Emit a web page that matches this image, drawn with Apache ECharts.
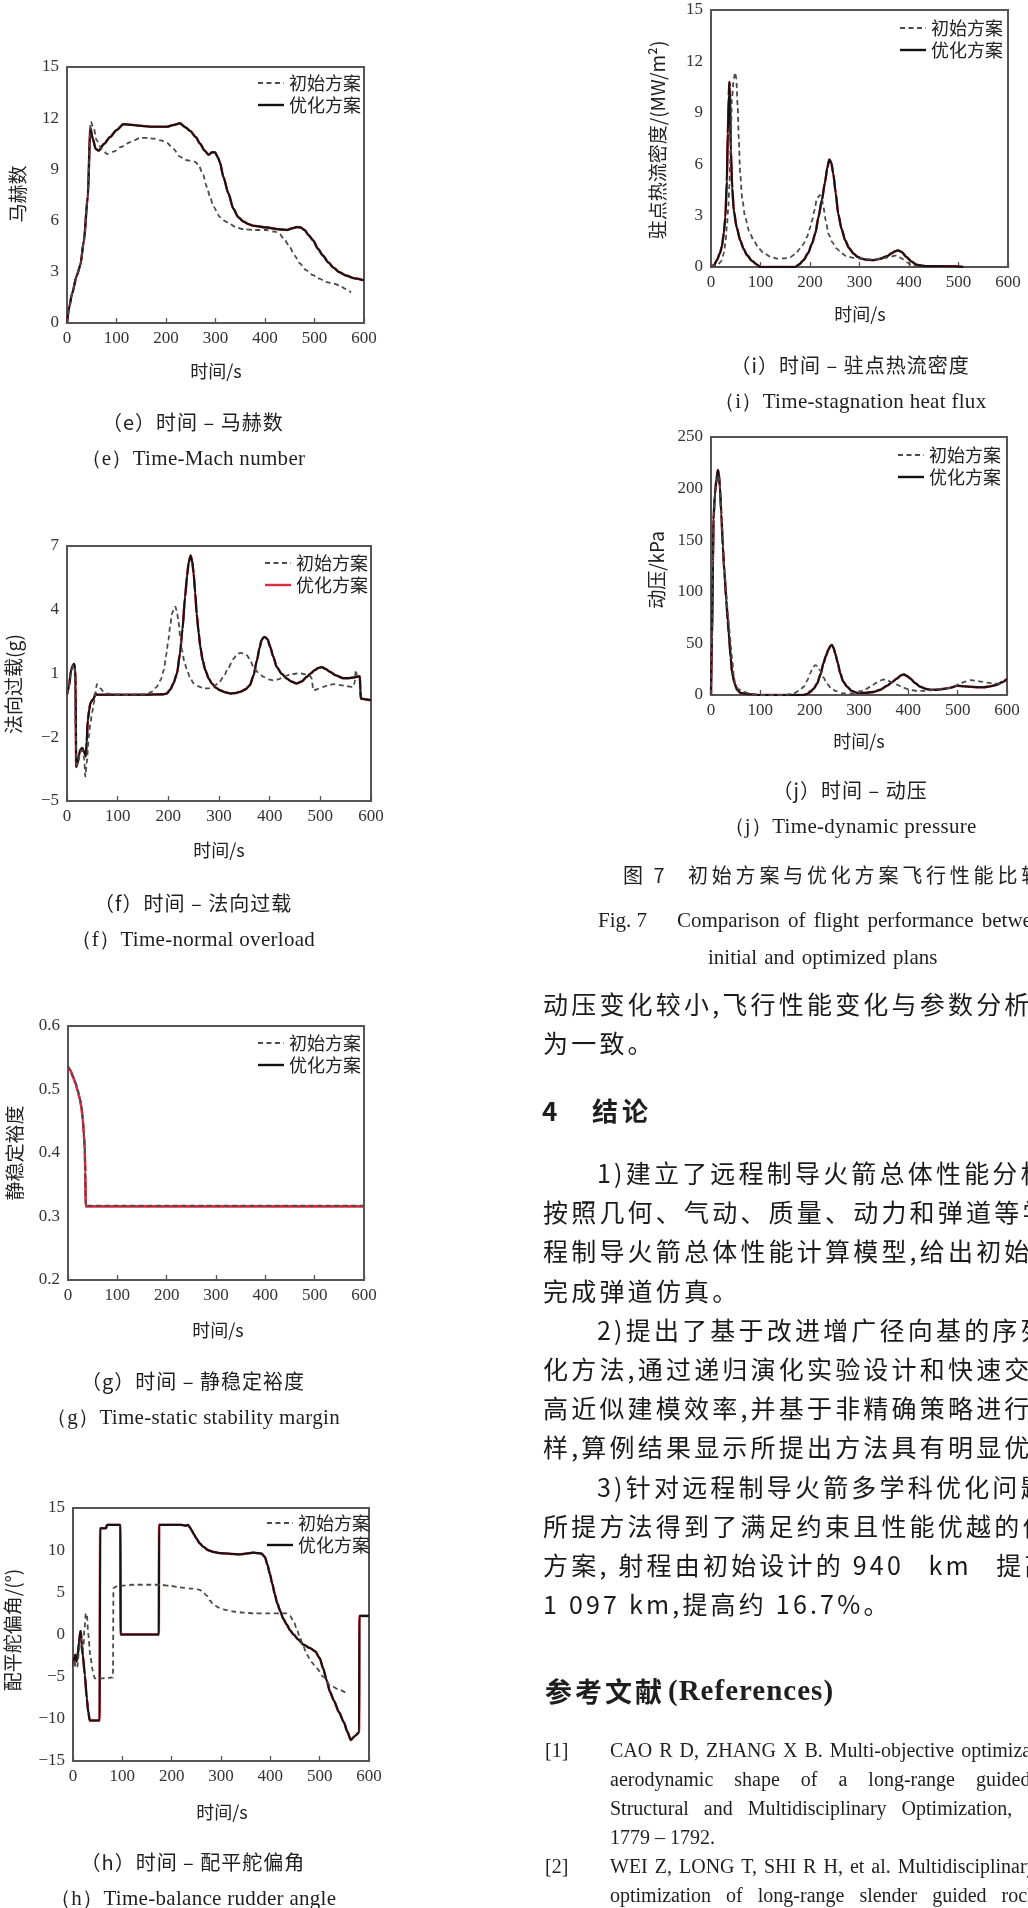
<!DOCTYPE html>
<html><head><meta charset="utf-8">
<script src="https://cdn.jsdelivr.net/npm/echarts@6/dist/echarts.min.js"></script>
<style>
html,body{margin:0;padding:0;background:#fff;width:1028px;height:1908px;overflow:hidden;}
#chart{position:absolute;left:0;top:0;width:1028px;height:1908px;}
.t{position:absolute;white-space:nowrap;color:#1e1e1e;line-height:1;}
.cjk{font-family:"Noto Sans CJK SC",sans-serif;}
.ser{font-family:"Liberation Serif","DejaVu Serif",serif;}
</style></head><body>
<div id="chart"></div>
<div id="txt"></div>
<script>
// ---------------- DATA (time s, value) ----------------
const xTicks = [0, 100, 200, 300, 400, 500, 600];
const legendNames = ['初始方案', '优化方案'];

// (e) Mach number
const machInit = [[0,0],[5,1.0],[10,1.7],[20,2.8],[27,3.4],[34,4.8],[42,7.4],[48,11.8],[54,11.4],[60,10.7],[70,10.2],[81,9.9],[95,10.05],[108,10.3],[128,10.6],[148,10.85],[165,10.85],[175,10.8],[190,10.7],[202,10.55],[215,10.2],[228,9.75],[240,9.55],[249,9.5],[258,9.45],[265,9.3],[275,8.7],[282,8.0],[290,7.3],[296,6.8],[309,6.2],[320,5.95],[329,5.8],[342,5.6],[356,5.5],[380,5.45],[403,5.45],[420,5.35],[430,5.2],[440,4.85],[450,4.45],[460,3.95],[470,3.5],[483,3.1],[497,2.8],[510,2.6],[524,2.4],[540,2.3],[551,2.2],[562,2.0],[574,1.8]];
const machOpt = [[0,0],[5,1.0],[10,1.7],[20,2.8],[27,3.4],[34,4.8],[42,7.4],[47,11.45],[52,10.8],[58,10.2],[64,10.1],[75,10.5],[87,10.9],[100,11.3],[114,11.65],[134,11.6],[150,11.55],[168,11.5],[185,11.5],[202,11.5],[215,11.6],[228,11.7],[240,11.45],[249,11.25],[260,10.9],[269,10.5],[278,10.1],[286,9.86],[293,10.0],[299,10.0],[305,9.7],[309,9.4],[316,8.55],[326,7.6],[336,6.7],[346,6.2],[356,5.95],[366,5.8],[376,5.7],[403,5.6],[425,5.5],[444,5.45],[455,5.55],[464,5.62],[472,5.6],[480,5.45],[488,5.15],[497,4.85],[507,4.35],[517,3.95],[528,3.55],[538,3.25],[550,2.98],[564,2.78],[580,2.62],[600,2.5]];

// (f) normal overload (g)
const loadInit = [[0,0],[4,0.4],[8,1.1],[13,1.4],[15,1.2],[17,-1.5],[19,-3.3],[22,-3.2],[26,-2.7],[30,-2.6],[34,-3.0],[36,-3.85],[39,-3.2],[43,-2.0],[46,-1.36],[50,-0.8],[53,-0.4],[56,0.1],[59,0.5],[63,0.4],[66,0.3],[72,0.15],[79,0.06],[90,0.02],[120,0],[158,0.03],[168,0.15],[177,0.37],[185,0.7],[191,1.16],[196,1.9],[200,2.57],[204,3.3],[207,3.8],[211,4.05],[214,4.15],[217,3.9],[220,3.43],[224,2.6],[227,2.1],[232,1.5],[237,1.16],[243,0.8],[250,0.53],[259,0.4],[269,0.3],[279,0.3],[289,0.37],[299,0.55],[309,0.84],[318,1.25],[329,1.7],[335,1.9],[342,1.97],[348,1.95],[355,1.86],[362,1.6],[368,1.3],[377,1.05],[388,0.84],[398,0.72],[407,0.68],[417,0.72],[427,0.84],[440,0.95],[453,1.0],[463,1.0],[473,0.95],[480,0.88],[483,0.76],[486,0.21],[496,0.28],[506,0.37],[516,0.45],[526,0.5],[540,0.45],[552,0.4],[565,0.37],[568,0.6],[570,1.16],[572,0.9]];
const loadOpt = [[0,0],[4,0.4],[8,1.16],[12,1.4],[14,1.45],[16,1.2],[17,0.4],[18,-3.4],[21,-3.2],[24,-2.8],[26,-2.6],[30,-2.5],[34,-2.7],[37,-2.9],[39,-2.2],[41,-1.2],[44,-0.7],[46,-0.4],[50,-0.25],[53,-0.18],[56,0.06],[59,0.0],[66,0],[100,0],[150,0],[190,0.02],[197,0.06],[204,0.25],[210,0.53],[217,1.0],[223,1.94],[228,3.1],[233,4.6],[237,5.6],[240,6.2],[244,6.55],[247,6.3],[250,5.7],[253,4.8],[256,3.8],[260,2.9],[263,2.26],[268,1.6],[273,1.16],[280,0.75],[286,0.53],[294,0.33],[302,0.21],[312,0.12],[322,0.06],[332,0.08],[342,0.14],[352,0.25],[361,0.45],[368,0.9],[375,1.63],[380,2.2],[384,2.57],[388,2.7],[391,2.72],[396,2.6],[401,2.26],[407,1.8],[414,1.3],[424,0.98],[434,0.76],[443,0.62],[453,0.53],[463,0.62],[473,0.84],[481,1.0],[489,1.16],[496,1.26],[503,1.3],[510,1.22],[519,1.08],[530,0.92],[545,0.78],[555,0.78],[565,0.81],[578,0.87],[579,0.2],[580,-0.18],[590,-0.22],[600,-0.26]];

// (g) static stability margin
const stabInit = [[0,0.537],[5,0.531],[10,0.522],[15,0.512],[20,0.499],[24,0.487],[27,0.475],[30,0.455],[32,0.435],[34,0.41],[35,0.38],[36,0.317],[100,0.317],[200,0.317],[300,0.317],[400,0.317],[500,0.317],[600,0.317]];
const stabOpt = [[0,0.535],[5,0.53],[10,0.52],[15,0.51],[20,0.497],[24,0.485],[27,0.473],[30,0.452],[32,0.43],[34,0.405],[35,0.37],[36,0.316],[100,0.316],[200,0.316],[300,0.316],[400,0.316],[500,0.316],[600,0.316]];

// (h) balance rudder angle (deg)
const rudderInit = [[0,-3.8],[3,-3.0],[6,-4.0],[9,-3.8],[12,-2.0],[15,-0.8],[17,-0.5],[19,-1.5],[21,-1.6],[23,0.5],[26,2.5],[28,2.4],[31,0],[35,-2.5],[40,-4.3],[44,-5.2],[50,-5.2],[60,-5.2],[70,-5.15],[81,-5.1],[82,5.5],[88,5.7],[100,5.8],[122,5.9],[150,5.9],[176,5.9],[200,5.75],[216,5.6],[240,5.45],[257,5.3],[264,5.0],[271,4.6],[278,4.0],[284,3.6],[295,3.2],[311,2.9],[328,2.7],[345,2.6],[370,2.5],[392,2.5],[420,2.5],[433,2.5],[440,2.2],[447,1.6],[454,0.6],[460,-0.4],[467,-1.4],[474,-2.4],[484,-3.3],[494,-4.0],[507,-5.0],[521,-6.0],[538,-6.5],[555,-7.0]];
const rudderOpt = [[0,-3.8],[3,-2.6],[5,-2.4],[7,-3.2],[9,-2.8],[12,-1.0],[15,0.4],[16,0.3],[17,-0.6],[20,-2.5],[24,-4.8],[28,-7.6],[31,-9.2],[34,-10.2],[54,-10.2],[55,12.6],[67,12.6],[69,13.0],[96,13.0],[96.5,0],[174,0],[174.5,13.0],[220,13.0],[228,12.9],[233,13.0],[237,12.7],[240,12.4],[245,11.9],[250,11.4],[257,10.8],[264,10.4],[274,10.0],[284,9.8],[298,9.65],[311,9.6],[325,9.55],[338,9.5],[352,9.6],[365,9.7],[375,9.65],[382,9.6],[389,9.2],[394,8.3],[399,7.2],[404,6.0],[409,4.8],[414,3.7],[420,2.8],[426,1.9],[433,1.2],[440,0.5],[447,0],[457,-0.6],[467,-1.2],[480,-1.6],[491,-2.0],[500,-2.8],[507,-4.0],[514,-5.4],[521,-6.8],[529,-7.85],[539,-9.2],[549,-10.4],[556,-11.5],[563,-12.5],[572,-12.0],[580,-11.6],[580.5,2.2],[600,2.2]];

// (i) stagnation heat flux (MW/m^2)
const heatInit = [[0,0],[12,0.1],[20,0.3],[26,0.8],[29,1.4],[32,2.3],[35,3.5],[37,4.7],[40,7.2],[42,9.7],[46,11.0],[49,11.35],[51,11.0],[54,9.35],[56,7.5],[59,5.45],[63,4.0],[69,2.9],[77,2.1],[86,1.56],[96,1.1],[106,0.82],[120,0.6],[133,0.49],[147,0.5],[160,0.58],[170,0.75],[180,1.07],[187,1.35],[194,1.75],[199,2.2],[204,2.7],[209,3.3],[214,4.0],[220,4.2],[224,4.0],[227,3.5],[232,2.7],[237,1.95],[245,1.45],[254,1.07],[264,0.8],[274,0.62],[288,0.53],[301,0.49],[315,0.45],[328,0.43],[342,0.48],[355,0.55],[365,0.62],[375,0.68],[385,0.5],[395,0.29],[405,0.12],[415,0]];
const heatOpt = [[0,0],[6,0.1],[12,0.4],[18,0.8],[22,1.2],[26,2.0],[29,2.9],[32,5.0],[34,7.8],[36,10.0],[37,10.8],[38,10.5],[40,6.8],[43,4.6],[46,3.3],[52,2.3],[59,1.56],[66,1.05],[73,0.68],[83,0.35],[93,0.14],[99,0],[170,0],[178,0.15],[187,0.4],[196,0.8],[204,1.36],[211,2.0],[217,2.9],[224,3.9],[230,4.9],[235,5.8],[239,6.27],[243,6.1],[247,5.45],[252,4.3],[257,3.1],[264,2.2],[271,1.56],[279,1.1],[288,0.78],[296,0.6],[304,0.49],[316,0.42],[328,0.4],[342,0.48],[355,0.62],[365,0.8],[372,0.92],[378,0.97],[385,0.88],[395,0.58],[405,0.32],[415,0.14],[425,0.08],[435,0.05],[460,0.05],[496,0.04],[510,0]];

// (j) dynamic pressure (kPa)
const dynInit = [[0,0],[2,56],[4,130],[5,170],[8,192],[11,205],[14,213],[16,210],[18,200],[21,175],[24,146],[27,124],[31,98],[34,80],[38,60],[40,48],[43,34],[46,20],[49,11],[55,6],[66,3],[80,1],[100,0],[150,0],[168,1.6],[178,4],[188,8],[195,14],[201,21],[206,26],[211,29],[216,28],[222,23],[228,17],[235,11],[243,7],[252,4],[269,1.6],[283,1.5],[296,2],[310,4.5],[323,8],[336,12],[343,14],[350,15],[358,14],[367,12],[377,10],[390,7],[404,5],[417,4],[431,4],[444,4.5],[458,5.5],[471,6.2],[485,7],[495,9],[505,11],[515,13],[526,14.5],[536,14],[546,13],[560,12],[573,11],[586,11],[595,13]];
const dynOpt = [[0,0],[2,56],[4,130],[5,170],[8,195],[11,209],[14,218],[16,214],[18,202],[21,175],[24,144],[27,120],[31,92],[34,72],[36,60],[40,36],[43,21],[48,11],[53,5],[60,2],[73,1],[100,0],[188,0],[195,1],[201,3],[208,6],[215,11],[222,20],[228,31],[233,38],[238,44],[242,47.5],[245,48.5],[248,46],[252,40],[257,31],[262,21],[268,13],[276,8],[285,4],[296,2],[310,2],[330,3],[343,5],[357,9],[367,12.5],[377,16],[385,19],[391,20],[397,18.5],[404,16],[414,11.5],[424,8],[435,6],[445,5],[455,5],[465,5.5],[475,6.2],[485,7],[499,9],[512,8.5],[526,8],[540,7.6],[553,7.5],[567,8.5],[580,10],[590,12.5],[600,15.5]];

// ---------------- LAYOUT ----------------
const F_CJK = '"Noto Sans CJK SC", sans-serif';
const F_SER = '"Liberation Serif", "DejaVu Serif", serif';
const RED = '#dc2a3e';
const panels = [
  {left:67, top:67,  w:297, h:256, yMin:0,  yMax:15, yInt:3,  ylab:'马赫数',   ylx:18, yly:194, xlx:216, lx:258, ly:83,  init:machInit,  opt:machOpt,  optLeg:'#111', optCol:'#141414', dec:0},
  {left:67, top:546, w:304, h:255, yMin:-5, yMax:7,  yInt:3,  ylab:'法向过载(g)', ylx:14, yly:684, xlx:219, lx:265, ly:563, init:loadInit,  opt:loadOpt,  optLeg:RED, optCol:'#141414', dec:0},
  {left:68, top:1026,w:296, h:254, yMin:0.2,yMax:0.6,yInt:0.1,ylab:'静稳定裕度', ylx:15, yly:1153, xlx:218, lx:258, ly:1043,init:stabInit,  opt:stabOpt,  optLeg:'#111', optCol:RED, dec:1},
  {left:73, top:1508,w:296, h:253, yMin:-15,yMax:15, yInt:5,  ylab:'配平舵偏角/(°)', ylx:13, yly:1630, xlx:222, lx:267, ly:1523,init:rudderInit,opt:rudderOpt,optLeg:'#111', optCol:'#141414', dec:0},
  {left:711,top:10,  w:297, h:257, yMin:0,  yMax:15, yInt:3,  ylab:'驻点热流密度/(MW/m²)', ylx:658, yly:140, xlx:860, lx:900, ly:28, init:heatInit,  opt:heatOpt,  optLeg:'#111', optCol:'#141414', dec:0},
  {left:711,top:437, w:296, h:258, yMin:0,  yMax:250,yInt:50, ylab:'动压/kPa', ylx:657, yly:570, xlx:859, lx:898, ly:455, init:dynInit,   opt:dynOpt,   optLeg:'#111', optCol:'#141414', dec:0}
];

const grids=[], xAxes=[], yAxes=[], series=[], graphics=[];
panels.forEach((p,i)=>{
  grids.push({left:p.left, top:p.top, width:p.w, height:p.h, show:true, borderColor:'#555', borderWidth:2, backgroundColor:'rgba(0,0,0,0)', containLabel:false});
  xAxes.push({gridIndex:i, type:'value', position:'bottom', min:xTicks[0], max:xTicks[xTicks.length-1], interval:xTicks[1]-xTicks[0],
    axisLine:{show:false, onZero:false}, splitLine:{show:false},
    axisTick:{show:true, inside:true, length:5, lineStyle:{color:'#555', width:1.3}},
    axisLabel:{margin:7, color:'#333', fontFamily:F_SER, fontSize:17}});
  yAxes.push({gridIndex:i, type:'value', position:'left', min:p.yMin, max:p.yMax, interval:p.yInt,
    axisLine:{show:false, onZero:false}, splitLine:{show:false}, axisTick:{show:false},
    axisLabel:{margin:8, color:'#333', fontFamily:F_SER, fontSize:17,
      formatter:v=>{const s=Math.abs(v).toFixed(p.dec); return v<-1e-9?'\u2212'+s:s;}}});
  const common = {type:'line', xAxisIndex:i, yAxisIndex:i, symbol:'none', showSymbol:false, smooth:0.25, smoothMonotone:'x', animation:false, silent:true};
  series.push(Object.assign({}, common, {name:legendNames[1]+'_r', data:p.opt, z:2, lineStyle:{color:RED, width:2.45}}));
  series.push(Object.assign({}, common, {name:legendNames[0], data:p.init, z:4, lineStyle:{color:'#4a4a4a', width:1.8, type:[5,3.5]}}));
  series.push(Object.assign({}, common, {name:legendNames[1], data:p.opt, z:3, lineStyle:{color:p.optCol, width:2.15}}));
  // legend
  graphics.push({type:'line', shape:{x1:p.lx, y1:p.ly, x2:p.lx+26, y2:p.ly}, style:{stroke:'#4a4a4a', lineWidth:1.8, lineDash:[5,3.5]}, z:10});
  graphics.push({type:'line', shape:{x1:p.lx, y1:p.ly+22, x2:p.lx+26, y2:p.ly+22}, style:{stroke:p.optLeg, lineWidth:2.4}, z:10});
  graphics.push({type:'text', x:p.lx+31, y:p.ly, style:{text:legendNames[0], font:'18px '+F_CJK, fill:'#222', textAlign:'left', textVerticalAlign:'middle', align:'left', verticalAlign:'middle'}, z:10});
  graphics.push({type:'text', x:p.lx+31, y:p.ly+22, style:{text:legendNames[1], font:'18px '+F_CJK, fill:'#222', textAlign:'left', textVerticalAlign:'middle', align:'left', verticalAlign:'middle'}, z:10});
  // axis titles
  graphics.push({type:'text', x:p.ylx, y:p.yly, rotation:Math.PI/2, style:{text:p.ylab, font:'19px '+F_CJK, fill:'#222', textAlign:'center', textVerticalAlign:'middle', align:'center', verticalAlign:'middle'}, z:10});
  graphics.push({type:'text', x:p.xlx, y:p.top+304, style:{text:'时间/s', font:'18px '+F_CJK, fill:'#222', textAlign:'center', textVerticalAlign:'middle', align:'center', verticalAlign:'middle'}, z:10});
});

const chart = echarts.init(document.getElementById('chart'), null, {renderer:'canvas'});
chart.setOption({animation:false, backgroundColor:'#fff', grid:grids, xAxis:xAxes, yAxis:yAxes, series:series, graphic:graphics});

// ---------------- TEXT ----------------
const captions = [
  {cx:193, y:422, cn:'（e）时间 – 马赫数', en:'（e）Time-Mach number'},
  {cx:193, y:903, cn:'（f）时间 – 法向过载', en:'（f）Time-normal overload'},
  {cx:193, y:1381,cn:'（g）时间 – 静稳定裕度', en:'（g）Time-static stability margin'},
  {cx:193, y:1862,cn:'（h）时间 – 配平舵偏角', en:'（h）Time-balance rudder angle'},
  {cx:850, y:365, cn:'（i）时间 – 驻点热流密度', en:'（i）Time-stagnation heat flux'},
  {cx:850, y:790, cn:'（j）时间 – 动压', en:'（j）Time-dynamic pressure'}
];
const body = [
  {x:543,y:1003,t:'动压变化较小,飞行性能变化与参数分析结果较'},
  {x:543,y:1042,t:'为一致。'},
  {x:597,y:1172,t:'1)建立了远程制导火箭总体性能分析模型,'},
  {x:543,y:1211,t:'按照几何、气动、质量、动力和弹道等学科建立远'},
  {x:543,y:1250,t:'程制导火箭总体性能计算模型,给出初始方案并'},
  {x:543,y:1290,t:'完成弹道仿真。'},
  {x:597,y:1329,t:'2)提出了基于改进增广径向基的序列近似优'},
  {x:543,y:1368,t:'化方法,通过递归演化实验设计和快速交叉验证提'},
  {x:543,y:1407,t:'高近似建模效率,并基于非精确策略进行自适应采'},
  {x:543,y:1446,t:'样,算例结果显示所提出方法具有明显优势。'},
  {x:597,y:1486,t:'3)针对远程制导火箭多学科优化问题,采用'},
  {x:543,y:1525,t:'所提方法得到了满足约束且性能优越的优化设计'},
  {x:543,y:1564,t:'方案, 射程由初始设计的 940\u2002 km\u2002 提高到'},
  {x:543,y:1603,t:'1 097 km,提高约 16.7%。'}
];
const refs = [
  {x:545,y:1750,t:'[1]'},
  {x:610,y:1750,t:'CAO R D, ZHANG X B. Multi-objective optimization of the', ws:2},
  {x:610,y:1779,t:'aerodynamic shape of a long-range guided rocket[J].', ws:16},
  {x:610,y:1808,t:'Structural and Multidisciplinary Optimization, 2018, 57(4):', ws:10},
  {x:610,y:1837,t:'1779 – 1792.', ws:0},
  {x:545,y:1866,t:'[2]'},
  {x:610,y:1866,t:'WEI Z, LONG T, SHI R H, et al. Multidisciplinary design', ws:2},
  {x:610,y:1895,t:'optimization of long-range slender guided rockets', ws:10}
];
const T = document.getElementById('txt');
function add(html, x, y, size, cls, extra){
  const d=document.createElement('div'); d.className='t '+cls;
  d.style.left=x+'px'; d.style.top=(y-size/2)+'px'; d.style.fontSize=size+'px';
  if(extra) Object.assign(d.style, extra);
  d.innerHTML=html; T.appendChild(d); return d;
}
captions.forEach(c=>{
  const a=add(c.cn, 0, c.y, 20, 'cjk', {letterSpacing:'1px'});
  a.style.left=(c.cx - a.offsetWidth/2)+'px';
  const b=add(c.en, 0, c.y+36, 21, 'ser', {letterSpacing:'0.3px'});
  b.style.left=(c.cx - b.offsetWidth/2)+'px';
});
add('图 7', 623, 875, 20, 'cjk', {letterSpacing:'3px'});
add('初始方案与优化方案飞行性能比较', 688, 875, 20, 'cjk', {letterSpacing:'3.8px'});
add('Fig. 7', 598, 920, 21, 'ser');
add('Comparison of flight performance between', 677, 920, 21, 'ser', {wordSpacing:'3px'});
add('initial and optimized plans', 708, 957, 21, 'ser', {wordSpacing:'2px'});
body.forEach(l=>add(l.t, l.x, l.y, 25, 'cjk', {letterSpacing:'3.2px', color:'#1a1a1a'}));
add('4', 542, 1110, 26, 'cjk', {fontWeight:'bold'});
add('结论', 592, 1110, 26, 'cjk', {fontWeight:'bold', letterSpacing:'4px'});
add('参考文献', 545, 1690, 27, 'cjk', {fontWeight:'bold', letterSpacing:'3px'});
add('(References)', 668, 1690, 29, 'ser', {fontWeight:'bold', letterSpacing:'1px'});
refs.forEach(r=>add(r.t, r.x, r.y, 20, 'ser', {wordSpacing:(r.ws||0)+'px'}));
</script>
</body></html>
